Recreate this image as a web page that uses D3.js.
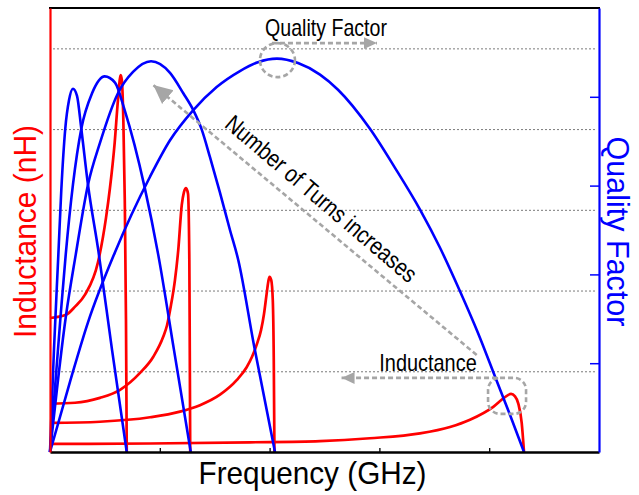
<html>
<head>
<meta charset="UTF-8">
<script src="https://d3js.org/d3.v7.min.js"></script>
<style>
body { margin: 0; background: #fff; }
text { font-family: "Liberation Sans Narrow", "Arial Narrow", "Liberation Sans", Arial, sans-serif; }
</style>
</head>
<body>
<svg id="chart" width="639" height="495"></svg>
<script>

// tick positions (no labels on this figure)
var freqTicks = [1, 2, 3, 4];        // GHz
var indTicks  = [1, 2, 3, 4, 5];     // nH, dotted grid
var qTicks    = [10, 20, 30, 40];    // quality factor

// inductance (nH) vs frequency (GHz), 1 = most turns
var indFreq1 = [0, 0.146, 0.228, 0.319, 0.437, 0.510, 0.546, 0.589, 0.619, 0.644, 0.654, 0.668, 0.681, 0.692, 0.699];
var indVal1  = [1.66, 1.70, 1.80, 1.95, 2.35, 2.90, 3.27, 3.83, 4.36, 4.67, 4.61, 4.11, 3.12, 1.64, 0];
var indFreq2 = [0, 0.228, 0.455, 0.638, 0.820, 0.941, 1.032, 1.066, 1.102, 1.138, 1.168, 1.200, 1.220, 1.239, 1.257, 1.269, 1.273, 1.277];
var indVal2  = [0.60, 0.61, 0.67, 0.77, 0.98, 1.18, 1.43, 1.57, 1.82, 2.13, 2.50, 3.06, 3.22, 3.27, 3.20, 2.38, 1.26, 0];
var indFreq3 = [0, 0.455, 0.911, 1.184, 1.366, 1.548, 1.700, 1.791, 1.840, 1.885, 1.922, 1.949, 1.972, 1.988, 1.999, 2.015, 2.029, 2.038, 2.044];
var indVal3  = [0.36, 0.375, 0.43, 0.50, 0.58, 0.71, 0.89, 1.05, 1.18, 1.34, 1.51, 1.71, 1.95, 2.11, 2.17, 2.13, 1.88, 1.14, 0];
var indFreq4 = [0, 0.911, 1.821, 2.459, 2.914, 3.370, 3.643, 3.825, 4.037, 4.135, 4.199, 4.235, 4.265, 4.296, 4.317];
var indVal4  = [0.10, 0.105, 0.12, 0.135, 0.17, 0.23, 0.31, 0.40, 0.56, 0.67, 0.72, 0.69, 0.60, 0.36, 0];

// quality factor vs frequency (GHz)
var qFreq1 = [0, 0.036, 0.076, 0.103, 0.139, 0.173, 0.209, 0.246, 0.285, 0.346, 0.440, 0.565, 0.699];
var qVal1  = [0, 11.5, 22.2, 29.5, 36.4, 39.6, 40.9, 40.1, 36.4, 30.1, 22.7, 11.5, 0];
var qFreq2 = [0, 0.097, 0.143, 0.209, 0.285, 0.383, 0.498, 0.592, 0.680, 0.862, 0.986, 1.129, 1.282];
var qVal2  = [0, 15.4, 22.2, 30.1, 36.4, 40.4, 42.3, 41.6, 38.5, 29.8, 22.2, 11.5, 0];
var qFreq3 = [0, 0.146, 0.234, 0.346, 0.455, 0.619, 0.756, 0.920, 1.093, 1.214, 1.305, 1.382, 1.457, 1.548, 1.639, 1.715, 1.858, 2.049];
var qVal3  = [0, 15.4, 22.2, 30.1, 34.8, 40.4, 42.8, 44.0, 42.7, 40.4, 38.5, 36.3, 33.2, 29.2, 25.0, 21.6, 12.0, 0];
var qFreq4 = [0, 0.182, 0.346, 0.592, 0.911, 1.093, 1.305, 1.518, 1.730, 1.894, 2.067, 2.259, 2.459, 2.623, 2.914, 3.142, 3.370, 3.552, 3.734, 3.898, 4.059, 4.189, 4.317];
var qVal4  = [0, 7.9, 14.6, 22.5, 31.0, 35.1, 38.5, 41.1, 42.9, 43.9, 44.3, 43.8, 42.5, 40.8, 36.4, 32.0, 27.3, 23.0, 18.1, 13.4, 8.3, 4.2, 0];

var indSeries = [d3.zip(indFreq1, indVal1), d3.zip(indFreq2, indVal2), d3.zip(indFreq3, indVal3), d3.zip(indFreq4, indVal4)];
var qSeries   = [d3.zip(qFreq1, qVal1), d3.zip(qFreq2, qVal2), d3.zip(qFreq3, qVal3), d3.zip(qFreq4, qVal4)];

var svg = d3.select("#chart"),
	margin = {top: 8, left: 50, bottom: 43, right: 40},
	W = +svg.attr("width"), H = +svg.attr("height");

var x  = d3.scaleLinear().domain([0, 5]).range([margin.left, W - margin.right]);
var yL = d3.scaleLinear().domain([0, 5.5]).range([H - margin.bottom, margin.top]);
var yQ = d3.scaleLinear().domain([0, 50]).range([H - margin.bottom, margin.top]);

var gray = "#a6a6a6";

// dotted grid from the left (inductance) axis
var grid = svg.append("g")
	.attr("transform", `translate(${x(0)},0)`)
	.call(d3.axisLeft(yL).tickValues(indTicks).tickFormat("").tickSize(-(x(5) - x(0) - 3)).tickSizeOuter(0));
grid.select(".domain").remove();
grid.selectAll(".tick line")
	.attr("x1", 3)
	.attr("stroke", "#7a7a7a")
	.attr("stroke-width", 1)
	.attr("stroke-dasharray", "2,2");

// curves
var lineL = d3.line().x(d => x(d[0])).y(d => yL(d[1])).curve(d3.curveMonotoneX);
var lineQ = d3.line().x(d => x(d[0])).y(d => yQ(d[1])).curve(d3.curveMonotoneX);

svg.append("g").selectAll("path").data(indSeries).enter().append("path")
	.attr("d", lineL)
	.attr("fill", "none")
	.attr("stroke", "#ff0000")
	.attr("stroke-width", 2.7)
	.attr("stroke-linejoin", "round");

svg.append("g").selectAll("path").data(qSeries).enter().append("path")
	.attr("d", lineQ)
	.attr("fill", "none")
	.attr("stroke", "#0000ff")
	.attr("stroke-width", 2.6)
	.attr("stroke-linejoin", "round");

// frame: black top line
svg.append("line")
	.attr("x1", x(0) - 1).attr("x2", x(5) + 1)
	.attr("y1", margin.top).attr("y2", margin.top)
	.attr("stroke", "#000").attr("stroke-width", 2.2);

// bottom axis
var xAxis = svg.append("g")
	.attr("transform", `translate(0,${yL(0)})`)
	.call(d3.axisBottom(x).tickValues(freqTicks).tickFormat("").tickSize(-4).tickSizeOuter(0));
xAxis.select(".domain").attr("stroke", "#000").attr("stroke-width", 2.6);
xAxis.selectAll(".tick line").attr("stroke", "#000").attr("stroke-width", 1.3);

// left axis (red)
var lAxis = svg.append("g")
	.attr("transform", `translate(${x(0)},0)`)
	.call(d3.axisLeft(yL).tickValues([]).tickSizeOuter(0));
lAxis.select(".domain").attr("stroke", "#ff0000").attr("stroke-width", 2.2);

// right axis (blue)
var rAxis = svg.append("g")
	.attr("transform", `translate(${x(5)},0)`)
	.call(d3.axisRight(yQ).tickValues(qTicks).tickFormat("").tickSize(-9).tickSizeOuter(0));
rAxis.select(".domain").attr("stroke", "#0000ff").attr("stroke-width", 2.2);
rAxis.selectAll(".tick line").attr("stroke", "#0000ff").attr("stroke-width", 1.5);

// axis titles
svg.append("text")
	.attr("transform", `translate(35.5,${(yL(0) + margin.top) / 2 + 1.5}) rotate(-90)`)
	.attr("text-anchor", "middle")
	.attr("font-size", 32)
	.attr("fill", "#ff0000")
	.attr("textLength", 213).attr("lengthAdjust", "spacingAndGlyphs")
	.text("Inductance (nH)");

svg.append("text")
	.attr("transform", `translate(607,${(yL(0) + margin.top) / 2 + 1.5}) rotate(90)`)
	.attr("text-anchor", "middle")
	.attr("font-size", 32)
	.attr("fill", "#0000ff")
	.attr("textLength", 190).attr("lengthAdjust", "spacingAndGlyphs")
	.text("Quality Factor");

svg.append("text")
	.attr("x", 312.5).attr("y", 483.5)
	.attr("text-anchor", "middle")
	.attr("font-size", 32)
	.attr("fill", "#000")
	.attr("textLength", 228).attr("lengthAdjust", "spacingAndGlyphs")
	.text("Frequency (GHz)");

// arrow heads
var defs = svg.append("defs");
defs.append("marker").attr("id", "headS")
	.attr("markerUnits", "userSpaceOnUse")
	.attr("viewBox", "0 -7 13 14").attr("markerWidth", 13).attr("markerHeight", 14)
	.attr("refX", 13).attr("refY", 0).attr("orient", "auto")
	.append("path").attr("d", "M0,-6L13,0L0,6Z").attr("fill", gray);
defs.append("marker").attr("id", "headL")
	.attr("markerUnits", "userSpaceOnUse")
	.attr("viewBox", "0 -10 19 20").attr("markerWidth", 19).attr("markerHeight", 20)
	.attr("refX", 19).attr("refY", 0).attr("orient", "auto")
	.append("path").attr("d", "M0,-9L19,0L0,9Z").attr("fill", gray);

var ann = svg.append("g")
	.attr("fill", "none")
	.attr("stroke", gray)
	.attr("stroke-width", 2.6)
	.attr("stroke-dasharray", "5,3");

// quality factor note, anchored on the peak of the widest Q curve
var qPeak = [x(qFreq4[d3.maxIndex(qVal4)]), yQ(d3.max(qVal4))];
ann.append("ellipse")
	.attr("cx", qPeak[0] + 0.5).attr("cy", qPeak[1] + 1.5)
	.attr("rx", 17.5).attr("ry", 17);
ann.append("line")
	.attr("x1", qPeak[0] - 5).attr("y1", qPeak[1] - 15.5)
	.attr("x2", qPeak[0] + 100).attr("y2", qPeak[1] - 15.5)
	.attr("marker-end", "url(#headS)");
svg.append("text")
	.attr("x", 265).attr("y", 36)
	.attr("font-size", 24)
	.attr("textLength", 122).attr("lengthAdjust", "spacingAndGlyphs")
	.text("Quality Factor");

// inductance note, anchored on the peak of the last L curve
var lPeak = [x(indFreq4[d3.maxIndex(indVal4)]), yL(d3.max(indVal4))];
ann.append("rect")
	.attr("x", lPeak[0] - 23).attr("y", lPeak[1] - 16)
	.attr("width", 38).attr("height", 36)
	.attr("rx", 12).attr("ry", 12);
ann.append("line")
	.attr("x1", lPeak[0] - 14).attr("y1", lPeak[1] - 16)
	.attr("x2", lPeak[0] - 169.5).attr("y2", lPeak[1] - 16)
	.attr("marker-end", "url(#headS)");
svg.append("text")
	.attr("x", 379.3).attr("y", 370.7)
	.attr("font-size", 24)
	.attr("textLength", 97.4).attr("lengthAdjust", "spacingAndGlyphs")
	.text("Inductance");

// number of turns arrow
ann.append("line")
	.attr("x1", 476.7).attr("y1", 355)
	.attr("x2", 153.3).attr("y2", 85)
	.attr("marker-end", "url(#headL)");
svg.append("text")
	.attr("transform", "translate(316,205) rotate(40.4)")
	.attr("text-anchor", "middle")
	.attr("font-size", 24)
	.attr("textLength", 243).attr("lengthAdjust", "spacingAndGlyphs")
	.text("Number of Turns increases");

</script>
</body>
</html>
